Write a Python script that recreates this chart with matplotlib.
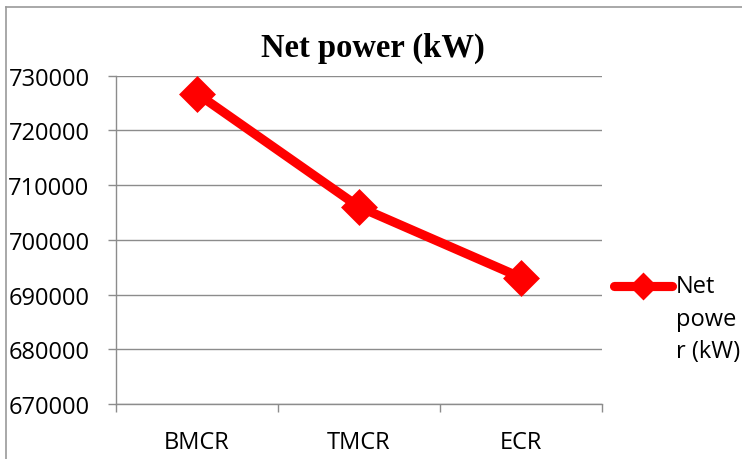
import matplotlib
matplotlib.use("Agg")
import matplotlib.pyplot as plt
from matplotlib.lines import Line2D

categories = ["BMCR", "TMCR", "ECR"]
net_power = [726700, 706000, 693100]
y_ticks = [670000, 680000, 690000, 700000, 710000, 720000, 730000]
series_label = "Net\npowe\nr (kW)"
title = "Net power (kW)"

W, H = 742, 460
fig = plt.figure(figsize=(W / 100, H / 100), dpi=100)
fig.patch.set_facecolor("white")

FONT = "Open Sans"
FS = 17

# plot area placement in pixels
left, right, top, bottom = 116, 602, 76.5, 405
ax = fig.add_axes([left / W, 1 - bottom / H, (right - left) / W, (bottom - top) / H])

x = list(range(1, len(categories) + 1))
ax.plot(x, net_power, color="#FF0000", lw=6.6, solid_capstyle="round",
        solid_joinstyle="round", marker="D", ms=16, mew=2.5,
        mec="#FF0000", mfc="#FF0000", zorder=3)

ax.set_xlim(0.5, len(categories) + 0.5)
ax.set_ylim(y_ticks[0], y_ticks[-1])
ax.set_yticks(y_ticks)
ax.set_yticklabels([str(v) for v in y_ticks], fontfamily=FONT, fontsize=FS)
ax.yaxis.grid(True, color="#8c8c8c", lw=1)
ax.set_axisbelow(True)

# boundary ticks between categories, labels centered in each slot
ax.set_xticks([i - 0.5 for i in range(1, len(categories) + 2)])
ax.set_xticklabels([])
ax.set_xticks(x, minor=True)
ax.set_xticklabels(categories, minor=True, fontfamily=FONT, fontsize=FS)
ax.tick_params(axis="x", which="minor", length=0, pad=19)
ax.tick_params(axis="x", which="major", length=6, color="#8c8c8c", width=1)
ax.tick_params(axis="y", length=6, color="#8c8c8c", width=1, pad=13)

for s in ("top", "right"):
    ax.spines[s].set_visible(False)
for s in ("left", "bottom"):
    ax.spines[s].set_color("#8c8c8c")
    ax.spines[s].set_linewidth(1)

fig.text(373 / W, 1 - 48 / H, title, ha="center", va="center",
         fontfamily="Liberation Serif", fontweight="bold", fontsize=23.5)

# legend entry
ly = 1 - 287 / H
fig.add_artist(Line2D([614 / W, 672 / W], [ly, ly],
                      color="#FF0000", lw=6.6, solid_capstyle="round"))
fig.add_artist(Line2D([643 / W], [ly], marker="D", ms=12, mew=2,
                      color="#FF0000"))
for i, line in enumerate(series_label.split("\n")):
    fig.text(676 / W, 1 - (287 + 32.5 * i) / H, line, ha="left", va="center",
             fontfamily=FONT, fontsize=FS)

# chart frame edges
fig.add_artist(Line2D([6 / W, 6 / W], [0, 1 - 8 / H], color="#9a9a9a", lw=1.2))
fig.add_artist(Line2D([6 / W, 1], [1 - 8 / H, 1 - 8 / H], color="#9a9a9a", lw=1.2))

fig.savefig("out.png", dpi=100, facecolor="white")
